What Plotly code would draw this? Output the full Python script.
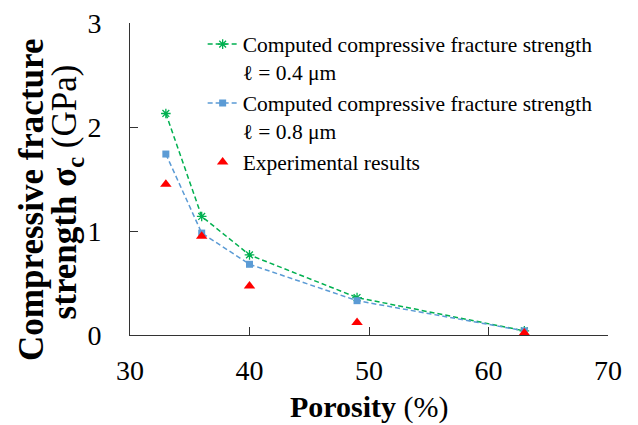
import plotly.graph_objects as go

porosity = [33, 36, 40, 49, 63]
strength_l04 = [2.13, 1.14, 0.77, 0.36, 0.04]
strength_l08 = [1.74, 0.98, 0.68, 0.33, 0.04]
experimental = [1.45, 0.95, 0.47, 0.12, 0.02]

FONT = "Liberation Serif"

fig = go.Figure()

fig.add_trace(go.Scatter(x=porosity, y=strength_l04,
                         mode="lines+markers",
                         name="Computed compressive fracture strength<br>ℓ = 0.4 μm",
                         line=dict(color="#00B050", width=1.5, dash="5px,3px"),
                         marker=dict(symbol="asterisk-open", size=8,
                                     line=dict(color="#00B050", width=1.3))))
fig.add_trace(go.Scatter(x=porosity, y=strength_l08,
                         mode="lines+markers",
                         name="Computed compressive fracture strength<br>ℓ = 0.8 μm",
                         line=dict(color="#5B9BD5", width=1.5, dash="5px,3px"),
                         marker=dict(symbol="square", size=7, color="#5B9BD5")))
fig.add_trace(go.Scatter(x=porosity, y=experimental,
                         mode="markers",
                         name="Experimental results",
                         marker=dict(symbol="triangle-up", size=10, color="#FF0000")))

fig.update_layout(width=638, height=425,
                  margin=dict(l=130, r=30, t=23, b=90),
                  plot_bgcolor="white",
                  paper_bgcolor="white",
                  font=dict(family=FONT, color="black"),
                  showlegend=True,
                  legend=dict(x=0.152, y=0.998, xanchor="left", yanchor="top",
                              font=dict(family=FONT, size=21.5, color="black"),
                              valign="top", bgcolor="rgba(0,0,0,0)",
                              itemwidth=30, tracegroupgap=0))

fig.update_xaxes(range=[30, 70], tickvals=[30, 40, 50, 60, 70],
                 showline=True, linecolor="#333", linewidth=1,
                 ticks="inside", ticklen=8, tickcolor="#333",
                 showgrid=False, zeroline=False, automargin=False,
                 tickfont=dict(family=FONT, size=28),
                 ticklabelstandoff=10)
fig.update_yaxes(range=[0, 3], tickvals=[0, 1, 2, 3],
                 showline=True, linecolor="#333", linewidth=1,
                 ticks="inside", ticklen=8, tickcolor="#333",
                 showgrid=False, zeroline=False, automargin=False,
                 tickfont=dict(family=FONT, size=28),
                 ticklabelstandoff=22)

# y axis title, one annotation per line
fig.add_annotation(text="<b>Compressive fracture</b>",
                   xref="paper", yref="paper", x=-0.205, y=0.433,
                   xanchor="center", yanchor="middle", textangle=-90,
                   showarrow=False, font=dict(family=FONT, size=35))
fig.add_annotation(text="<b>strength σ<sub>c</sub></b> (GPa)",
                   xref="paper", yref="paper", x=-0.132, y=0.46,
                   xanchor="center", yanchor="middle", textangle=-90,
                   showarrow=False, font=dict(family=FONT, size=35))
# x axis title
fig.add_annotation(text="<b>Porosity</b> (%)",
                   xref="paper", yref="paper", x=0.5, y=-0.2917,
                   xanchor="center", yanchor="bottom",
                   showarrow=False, font=dict(family=FONT, size=30))

fig.write_html("out.html", config={"displayModeBar": False},
               post_script="document.body.style.margin='0';")
